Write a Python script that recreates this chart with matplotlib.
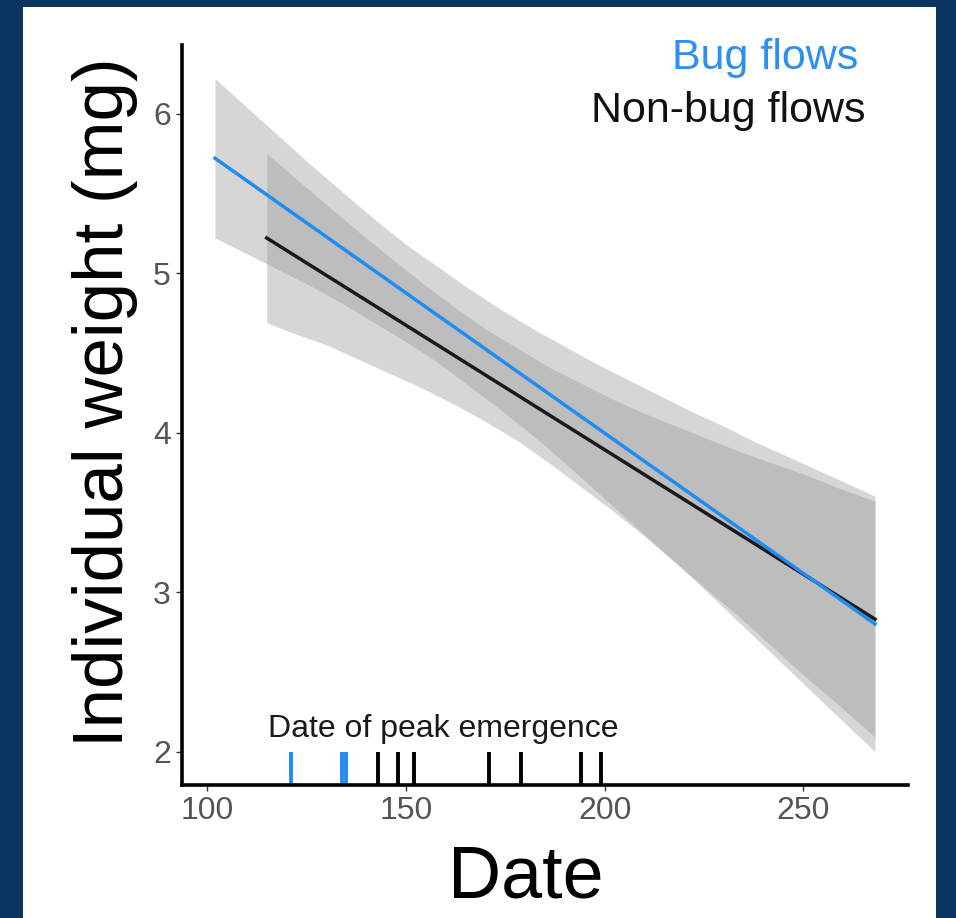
import matplotlib.pyplot as plt
from matplotlib.patches import Rectangle

plt.rcParams['font.family'] = ['Liberation Sans', 'DejaVu Sans']

# bug flows: fitted line and confidence band
bug_line_x = [102, 268]
bug_line_y = [5.72, 2.80]
bug_x = [102, 110, 118, 126, 134, 142, 150, 158, 166, 174, 182,
         190, 198, 206, 214, 222, 230, 238, 246, 254, 262, 268]
bug_lo = [5.22, 5.12, 5.02, 4.92, 4.81, 4.69, 4.57, 4.44, 4.29, 4.14, 3.98,
          3.81, 3.63, 3.45, 3.27, 3.09, 2.90, 2.71, 2.52, 2.33, 2.14, 2.00]
bug_hi = [6.22, 6.04, 5.86, 5.68, 5.51, 5.34, 5.18, 5.04, 4.90, 4.77, 4.65,
          4.54, 4.43, 4.33, 4.23, 4.13, 4.04, 3.94, 3.85, 3.76, 3.67, 3.60]

# non-bug flows
nonbug_line_x = [115, 268]
nonbug_line_y = [5.22, 2.83]
nonbug_x = [115, 122, 130, 138, 146, 154, 162, 170, 178, 186,
            194, 202, 210, 218, 226, 234, 242, 250, 258, 268]
nonbug_lo = [4.69, 4.62, 4.55, 4.46, 4.37, 4.28, 4.18, 4.07, 3.95, 3.81,
             3.66, 3.51, 3.35, 3.18, 3.01, 2.84, 2.66, 2.48, 2.31, 2.09]
nonbug_hi = [5.75, 5.60, 5.43, 5.26, 5.10, 4.94, 4.79, 4.65, 4.53, 4.41,
             4.31, 4.21, 4.12, 4.04, 3.96, 3.88, 3.81, 3.74, 3.66, 3.57]

# dates of peak emergence
bug_peaks = [121, 134, 135]
nonbug_peaks = [143, 148, 152, 171, 179, 194, 199]

x_ticks = [100, 150, 200, 250]
y_ticks = [2, 3, 4, 5, 6]

blue = '#1E8CF0'
dark = '#1a1a1a'
navy = '#0a355e'

fig = plt.figure(figsize=(9.56, 9.18), dpi=100)
fig.patch.set_facecolor(navy)
fig.patches.append(Rectangle((23 / 956, 0), 913 / 956, 911 / 918,
                             transform=fig.transFigure, facecolor='white',
                             edgecolor='none', zorder=-10))

ax = fig.add_axes([182 / 956, 133 / 918, 726 / 956, 740 / 918])
ax.set_facecolor('none')

ax.fill_between(bug_x, bug_lo, bug_hi, color='#999999', alpha=0.4, lw=0)
ax.fill_between(nonbug_x, nonbug_lo, nonbug_hi, color='#999999', alpha=0.4, lw=0)
ax.plot(nonbug_line_x, nonbug_line_y, color=dark, lw=2.5)
ax.plot(bug_line_x, bug_line_y, color=blue, lw=2.5)

ax.set_xlim(93.7, 276.3)
ax.set_ylim(1.79, 6.43)

ax.vlines(bug_peaks, 1.79, 2.0, color=blue, lw=2.8)
ax.vlines(nonbug_peaks, 1.79, 2.0, color='black', lw=2.8)
ax.text(159.3, 2.05, 'Date of peak emergence', ha='center', va='bottom',
        fontsize=23, color='#1a1a1a')

ax.text(0.931, 0.967, 'Bug flows', transform=ax.transAxes, ha='right',
        va='baseline', fontsize=31, color='#2b90f0')
ax.text(0.942, 0.896, 'Non-bug flows', transform=ax.transAxes, ha='right',
        va='baseline', fontsize=31, color='#111111')

ax.set_xticks(x_ticks)
ax.set_yticks(y_ticks)
ax.tick_params(axis='both', labelsize=23, labelcolor='#555555',
               color='#333333', length=4, width=1, pad=4)
for side in ['top', 'right']:
    ax.spines[side].set_visible(False)
for side in ['left', 'bottom']:
    ax.spines[side].set_linewidth(2.6)
    ax.spines[side].set_color('black')

ax.set_xlabel('Date', fontsize=53)
ax.xaxis.label.set_va('baseline')
ax.xaxis.set_label_coords(0.474, -0.1527)
ax.set_ylabel('Individual weight (mg)', fontsize=51)
ax.yaxis.set_label_coords(-0.0606, 0.5176)

fig.savefig('out.png', dpi=100, facecolor=fig.get_facecolor())
